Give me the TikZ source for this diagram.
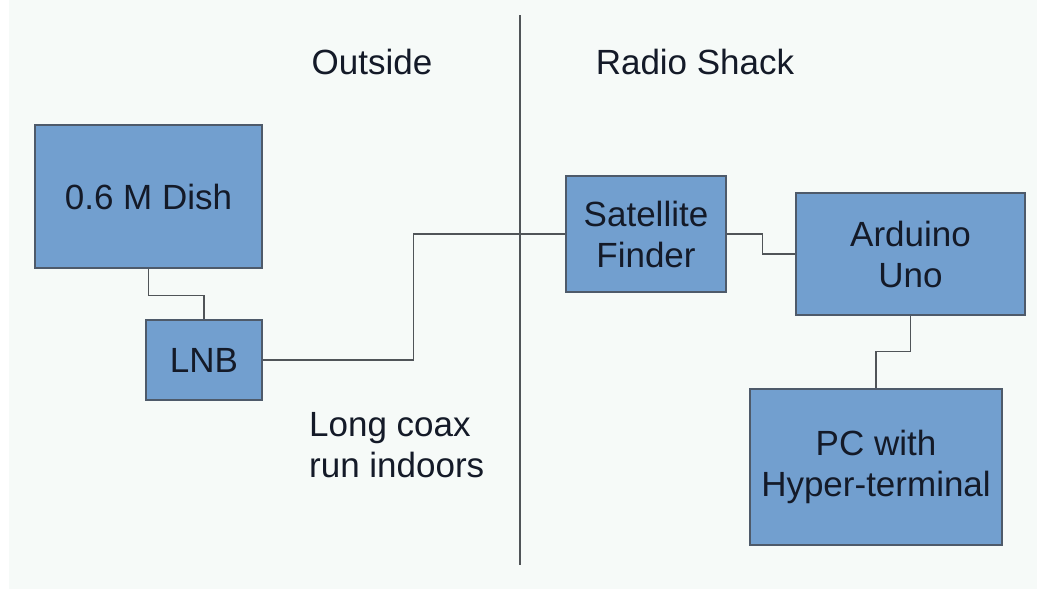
\documentclass[tikz,border=0pt]{standalone}
\usepackage{fontspec}
\setmainfont{Liberation Sans}
\usetikzlibrary{positioning}

\definecolor{boxblue}{HTML}{729FCF}
\definecolor{boxedge}{HTML}{4E5A6A}
\definecolor{wiregray}{HTML}{505458}
\definecolor{inkdark}{HTML}{141A28}
\definecolor{paper}{HTML}{F6FAF8}

\begin{document}
\begin{tikzpicture}[x=1pt, y=-1pt, font=\fontsize{35}{41}\selectfont,
	unit/.style={draw=boxedge, fill=boxblue, line width=1.2pt, text=inkdark, align=center, inner sep=0pt},
	wire/.style={draw=wiregray, line width=1.2pt},
	caption/.style={text=inkdark, align=left, inner sep=0pt}]
	\useasboundingbox (0,0) rectangle (1037,589);
	\fill[paper] (9,0) rectangle (1037,589);
	% divider between outside and shack
	\coordinate (divtop) at (520,15);
	\coordinate (divbot) at (520,565);
	\draw[wire] (divtop) -- (divbot);
	\node[caption] (outside) at (372,62) {Outside};
	\node[caption] (shack) at (695,62) {Radio Shack};
	\node[caption, anchor=west] (coax) at (309,445) {Long coax\\run indoors};
	% units
	\node[unit, minimum width=227pt, minimum height=143pt] (dish) at (148.5,196.5) {0.6 M Dish};
	\node[unit, minimum width=116pt, minimum height=80pt] (lnb) at (204,360) {LNB};
	\node[unit, minimum width=160pt, minimum height=116pt] (finder) at (646,234) {Satellite\\Finder};
	\node[unit, minimum width=229pt, minimum height=122pt] (uno) at (910.5,254) {Arduino\\Uno};
	\node[unit, minimum width=252pt, minimum height=156pt] (pc) at (876,467) {PC with\\Hyper-terminal};
	% cables
	\draw[wire] (dish.south) -- ++(0,27) -| (lnb.north);
	\draw[wire] (lnb.east) -- ++(151,0) |- (finder.west);
	\draw[wire] (finder.east) -- ++(36,0) |- (uno.west);
	\draw[wire] (uno.south) -- ++(0,36) -| (pc.north);
\end{tikzpicture}
\end{document}
